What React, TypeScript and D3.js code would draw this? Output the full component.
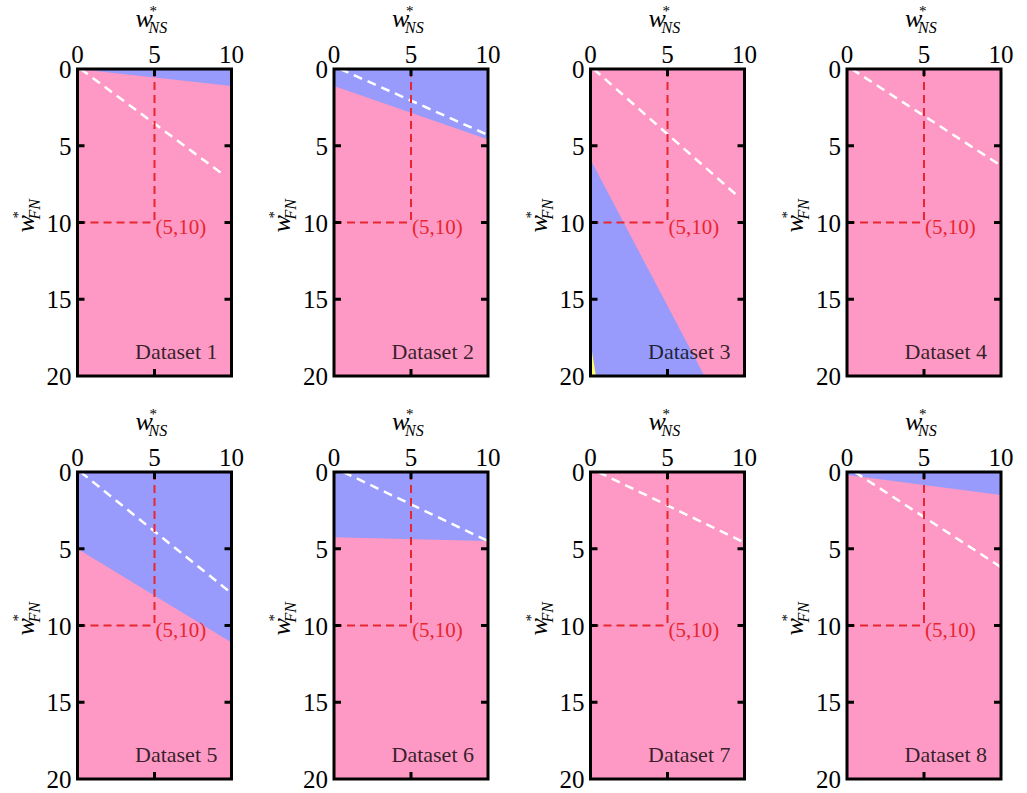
import React from "react";
import * as d3 from "d3";

// panel labels
const datasets = ["Dataset 1", "Dataset 2", "Dataset 3", "Dataset 4", "Dataset 5", "Dataset 6", "Dataset 7", "Dataset 8"];

// axis ticks
const xTicks = [0, 5, 10];
const yTicks = [0, 5, 10, 15, 20];

// blue region of each dataset, [w_NS, w_FN] corners
const blueRegions = [
  [[0, 0], [10, 0], [10, 1.1]],
  [[0, 0], [10, 0], [10, 4.6], [0, 1.1]],
  [[0, 5.9], [0, 20], [7.4, 20]],
  [],
  [[0, 0], [10, 0], [10, 11.1], [0, 5.0]],
  [[0, 0], [10, 0], [10, 4.5], [0, 4.25]],
  [],
  [[0, 0], [10, 0], [10, 1.5], [0, 0.2]],
];

// small yellow region (only dataset 3)
const yellowRegions = [[], [], [[0, 17.8], [0, 20], [0.35, 20]], [], [], [], [], []];

// white dashed boundary line of each dataset
const whiteLines = [
  [[0.2, 0], [9.5, 6.9]],
  [[0.4, 0], [10, 4.3]],
  [[0.2, 0], [9.7, 8.4]],
  [[0.3, 0], [10, 6.3]],
  [[0.2, 0], [10, 7.9]],
  [[0.6, 0], [10, 4.5]],
  [[0.5, 0], [10, 4.6]],
  [[0.5, 0], [10, 6.2]],
];

const refPoint = [5, 10];

const PINK = "#fd99c4";
const BLUE = "#989bfb";
const YELLOW = "#ffff66";
const RED = "#e8262f";
const serif = "Liberation Serif, DejaVu Serif, serif";

const W = 154;
const H = 307;

function Title({ sub }: { sub: string }) {
  // w with a star stacked over the subscript
  return (
    <text x={-20} y={0} style={{ fontFamily: serif }} fontSize={26} fontStyle="italic">
      w
      <tspan x={-6} dy={-11} fontSize={15} fontStyle="normal">*</tspan>
      <tspan x={-7} dy={17} fontSize={16}>{sub}</tspan>
    </text>
  );
}

function Panel({ i }: { i: number }) {
  const col = i % 4;
  const row = Math.floor(i / 4);
  const left = 77.5 + col * 256.5;
  const top = row === 0 ? 69 : 472;

  const x = d3.scaleLinear().domain([0, 10]).range([0, W]);
  const y = d3.scaleLinear().domain([0, 20]).range([0, H]);
  const poly = d3.line<number[]>().x(d => x(d[0])).y(d => y(d[1]));

  const cx = W / 2;
  return (
    <g transform={`translate(${left},${top})`} style={{ fontFamily: serif }}>
      <rect x={0} y={0} width={W} height={H} fill={PINK} />
      {blueRegions[i].length > 0 && <path d={poly(blueRegions[i] as number[][]) + "Z"} fill={BLUE} />}
      {yellowRegions[i].length > 0 && <path d={poly(yellowRegions[i] as number[][]) + "Z"} fill={YELLOW} />}
      <path d={poly(whiteLines[i] as number[][]) || ""} stroke="#fff" strokeWidth={2.5} strokeDasharray="9,6" fill="none" />
      {/* reference point guides */}
      <line x1={x(refPoint[0])} x2={x(refPoint[0])} y1={y(0)} y2={y(refPoint[1])} stroke={RED} strokeWidth={2} strokeDasharray="8,5" />
      <line x1={x(0)} x2={x(refPoint[0])} y1={y(refPoint[1])} y2={y(refPoint[1])} stroke={RED} strokeWidth={2} strokeDasharray="8,5" />
      <text x={x(refPoint[0]) + 1} y={y(refPoint[1]) + 11} fontSize={21} fill={RED}>
        ({refPoint[0]},{refPoint[1]})
      </text>
      <text x={W - 14} y={H - 17} textAnchor="end" fontSize={22} fill="#000" fillOpacity={0.8}>
        {datasets[i]}
      </text>

      {/* ticks, pointing inward */}
      {xTicks.slice(1, -1).map(t => (
        <g key={"xt" + t}>
          <line x1={x(t)} x2={x(t)} y1={0} y2={7} stroke="#000" strokeWidth={3} />
          <line x1={x(t)} x2={x(t)} y1={H} y2={H - 7} stroke="#000" strokeWidth={3} />
        </g>
      ))}
      {yTicks.slice(1, -1).map(t => (
        <g key={"yt" + t}>
          <line x1={0} x2={7} y1={y(t)} y2={y(t)} stroke="#000" strokeWidth={3} />
          <line x1={W} x2={W - 7} y1={y(t)} y2={y(t)} stroke="#000" strokeWidth={3} />
        </g>
      ))}
      <rect x={0} y={0} width={W} height={H} fill="none" stroke="#000" strokeWidth={3} />

      {/* tick labels */}
      {xTicks.map(t => (
        <text key={"xl" + t} x={x(t)} y={-6} textAnchor="middle" fontSize={25}>{t}</text>
      ))}
      {yTicks.map(t => (
        <text key={"yl" + t} x={-6} y={y(t) + 9} textAnchor="end" fontSize={25}>{t}</text>
      ))}

      {/* axis titles */}
      <g transform={`translate(${cx + 1},${-42})`}>
        <Title sub="NS" />
      </g>
      <g transform={`translate(${-44},${H / 2 - 10}) rotate(-90)`}>
        <Title sub="FN" />
      </g>
    </g>
  );
}

export default function App() {
  return (
    <svg width={1027} height={793} style={{ position: "absolute", left: 0, top: 0, background: "#fff" }}>
      {datasets.map((d, i) => (
        <Panel key={d} i={i} />
      ))}
    </svg>
  );
}
